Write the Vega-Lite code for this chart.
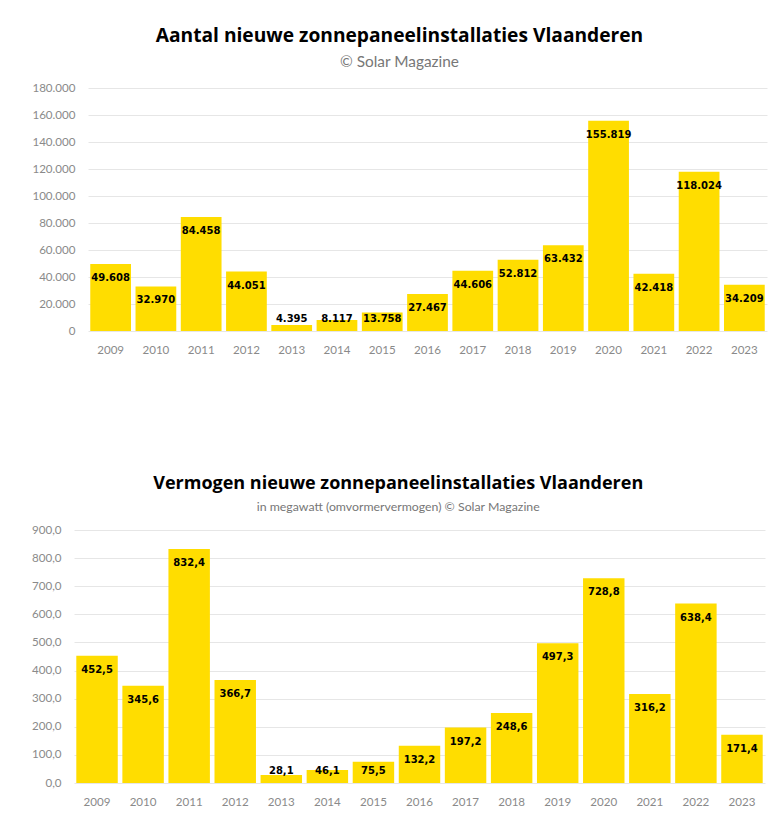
{
  "$schema": "https://vega.github.io/schema/vega-lite/v6.json",
  "padding": {"left": 30, "top": 27, "right": 5, "bottom": 5},
  "background": "white",
  "spacing": 118,
  "config": {
    "locale": {"number": {"decimal": ",", "thousands": ".", "grouping": [3], "currency": ["€", ""]}},
    "view": {"stroke": null},
    "axis": {"labelFont": "Lato", "labelFontSize": 11.6, "labelColor": "#8a8a8a", "domain": false, "ticks": false, "title": null, "gridColor": "#e6e6e6", "gridWidth": 1},
    "axisX": {"labelAngle": 0, "labelPadding": 13, "grid": false},
    "axisY": {"labelPadding": 13}
  },
  "vconcat": [
    {"spacing": 0, "hconcat": [
    {"width": 1, "height": 1, "data": {"values": []}, "mark": {"type": "point", "opacity": 0}},
    {
      "title": {"text": "Aantal nieuwe zonnepaneelinstallaties Vlaanderen", "subtitle": "© Solar Magazine", "anchor": "middle", "frame": "bounds", "font": "Open Sans", "fontSize": 19.2, "fontWeight": "bold", "color": "#000000", "subtitleFont": "Lato", "subtitleFontSize": 15.4, "subtitleColor": "#777777", "subtitlePadding": 8, "offset": 12},
      "width": 679,
      "height": 243,
      "data": {"values": [
        {"jaar": "2009", "waarde": 49608},
        {"jaar": "2010", "waarde": 32970},
        {"jaar": "2011", "waarde": 84458},
        {"jaar": "2012", "waarde": 44051},
        {"jaar": "2013", "waarde": 4395},
        {"jaar": "2014", "waarde": 8117},
        {"jaar": "2015", "waarde": 13758},
        {"jaar": "2016", "waarde": 27467},
        {"jaar": "2017", "waarde": 44606},
        {"jaar": "2018", "waarde": 52812},
        {"jaar": "2019", "waarde": 63432},
        {"jaar": "2020", "waarde": 155819},
        {"jaar": "2021", "waarde": 42418},
        {"jaar": "2022", "waarde": 118024},
        {"jaar": "2023", "waarde": 34209}
      ]},
      "encoding": {
        "x": {"field": "jaar", "type": "ordinal", "scale": {"paddingInner": 0.1, "paddingOuter": 0.05}},
        "y": {"field": "waarde", "type": "quantitative", "scale": {"domain": [0, 180000], "nice": false}, "axis": {"format": ",d", "values": [0, 20000, 40000, 60000, 80000, 100000, 120000, 140000, 160000, 180000]}}
      },
      "layer": [
        {"mark": {"type": "bar", "color": "#FFDD00"}},
        {"transform": [{"filter": "datum.waarde >= 20000"}], "mark": {"type": "text", "font": "DejaVu Sans", "fontWeight": "bold", "fontSize": 10, "color": "#000000", "baseline": "middle", "dy": 14}, "encoding": {"text": {"field": "waarde", "type": "quantitative", "format": ",d"}}},
        {"transform": [{"filter": "datum.waarde >= 10000 && datum.waarde < 20000"}], "mark": {"type": "text", "font": "DejaVu Sans", "fontWeight": "bold", "fontSize": 10, "color": "#000000", "baseline": "middle", "dy": 7}, "encoding": {"text": {"field": "waarde", "type": "quantitative", "format": ",d"}}},
        {"transform": [{"filter": "datum.waarde >= 6000 && datum.waarde < 10000"}], "mark": {"type": "text", "font": "DejaVu Sans", "fontWeight": "bold", "fontSize": 10, "color": "#000000", "baseline": "middle", "dy": -1}, "encoding": {"text": {"field": "waarde", "type": "quantitative", "format": ",d"}}},
        {"transform": [{"filter": "datum.waarde < 6000"}], "mark": {"type": "text", "font": "DejaVu Sans", "fontWeight": "bold", "fontSize": 10, "color": "#000000", "baseline": "middle", "dy": -6}, "encoding": {"text": {"field": "waarde", "type": "quantitative", "format": ",d"}}}
      ]
    }
    ]},
    {"spacing": 0, "hconcat": [
    {"width": 1, "height": 1, "data": {"values": []}, "mark": {"type": "point", "opacity": 0}},
    {
      "title": {"text": "Vermogen nieuwe zonnepaneelinstallaties Vlaanderen", "subtitle": "in megawatt (omvormervermogen) © Solar Magazine", "anchor": "middle", "frame": "bounds", "font": "Open Sans", "fontSize": 18, "fontWeight": "bold", "color": "#000000", "subtitleFont": "Lato", "subtitleFontSize": 12.3, "subtitleColor": "#777777", "subtitlePadding": 8, "offset": 11},
      "width": 691,
      "height": 253,
      "data": {"values": [
        {"jaar": "2009", "waarde": 452.5},
        {"jaar": "2010", "waarde": 345.6},
        {"jaar": "2011", "waarde": 832.4},
        {"jaar": "2012", "waarde": 366.7},
        {"jaar": "2013", "waarde": 28.1},
        {"jaar": "2014", "waarde": 46.1},
        {"jaar": "2015", "waarde": 75.5},
        {"jaar": "2016", "waarde": 132.2},
        {"jaar": "2017", "waarde": 197.2},
        {"jaar": "2018", "waarde": 248.6},
        {"jaar": "2019", "waarde": 497.3},
        {"jaar": "2020", "waarde": 728.8},
        {"jaar": "2021", "waarde": 316.2},
        {"jaar": "2022", "waarde": 638.4},
        {"jaar": "2023", "waarde": 171.4}
      ]},
      "encoding": {
        "x": {"field": "jaar", "type": "ordinal", "scale": {"paddingInner": 0.1, "paddingOuter": 0.05}},
        "y": {"field": "waarde", "type": "quantitative", "scale": {"domain": [0, 900], "nice": false}, "axis": {"format": ",.1f", "values": [0, 100, 200, 300, 400, 500, 600, 700, 800, 900]}}
      },
      "layer": [
        {"mark": {"type": "bar", "color": "#FFDD00"}},
        {"transform": [{"filter": "datum.waarde >= 100"}], "mark": {"type": "text", "font": "DejaVu Sans", "fontWeight": "bold", "fontSize": 10, "color": "#000000", "baseline": "middle", "dy": 14}, "encoding": {"text": {"field": "waarde", "type": "quantitative", "format": ",.1f"}}},
        {"transform": [{"filter": "datum.waarde >= 60 && datum.waarde < 100"}], "mark": {"type": "text", "font": "DejaVu Sans", "fontWeight": "bold", "fontSize": 10, "color": "#000000", "baseline": "middle", "dy": 9}, "encoding": {"text": {"field": "waarde", "type": "quantitative", "format": ",.1f"}}},
        {"transform": [{"filter": "datum.waarde >= 40 && datum.waarde < 60"}], "mark": {"type": "text", "font": "DejaVu Sans", "fontWeight": "bold", "fontSize": 10, "color": "#000000", "baseline": "middle", "dy": 1}, "encoding": {"text": {"field": "waarde", "type": "quantitative", "format": ",.1f"}}},
        {"transform": [{"filter": "datum.waarde < 40"}], "mark": {"type": "text", "font": "DejaVu Sans", "fontWeight": "bold", "fontSize": 10, "color": "#000000", "baseline": "middle", "dy": -4}, "encoding": {"text": {"field": "waarde", "type": "quantitative", "format": ",.1f"}}}
      ]
    }
    ]}
  ]
}
